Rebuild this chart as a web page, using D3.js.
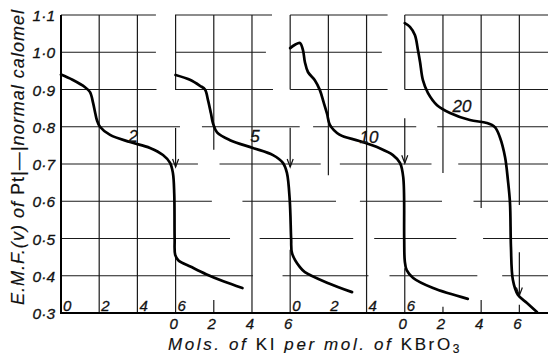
<!DOCTYPE html>
<meta charset="utf-8">
<style>
body {
    margin: 0px;
    background: #fff;
    overflow: hidden;
}
svg text {
    fill: #111;
    stroke: #111;
    stroke-width: 0.3px;
    font-family: "Liberation Sans", Arial, sans-serif;
}
.grid line {
    stroke: #1a1a1a;
    stroke-width: 1.2px;
}
.curve {
    fill: none;
    stroke: #000;
    stroke-width: 2.7px;
    stroke-linejoin: round;
    stroke-linecap: round;
}
</style>
<body>
<script src="https://d3js.org/d3.v7.min.js"></script>
<script>
var width = 550,
    height = 354;

// ratio labels of the four curves, each drawn on its own grid shifted 6 mols right
var ratios = ["2", "5", "10", "20"];
var shift = 6;

// mols KI per mol KBrO3 (local to each curve) vs e.m.f. (v)
var curve2 = [[0,0.94],[0.6,0.926],[1.26,0.906],[1.52,0.893],[1.68,0.864],[1.8,0.835],[1.88,0.818],
    [2.04,0.80],[2.57,0.778],[3.61,0.759],[4.66,0.743],[5.34,0.724],[5.71,0.703],[5.86,0.676],
    [5.93,0.62],[5.95,0.5],[5.98,0.456],[6.15,0.441],[6.8,0.424],[7.6,0.404],[8.5,0.385],[9.5,0.367]];
var curve5 = [[0,0.939],[0.75,0.926],[1.28,0.91],[1.54,0.9],[1.7,0.871],[1.85,0.836],[1.96,0.809],
    [2.17,0.785],[2.85,0.764],[4.05,0.743],[5.1,0.724],[5.62,0.703],[5.83,0.676],[5.98,0.6],
    [6.05,0.5],[6.1,0.46],[6.51,0.423],[6.77,0.41],[8.0,0.38],[9.24,0.356]];
var curve10 = [[0,1.011],[0.25,1.02],[0.51,1.025],[0.67,1.006],[0.77,0.974],[0.93,0.947],[1.29,0.925],
    [1.55,0.899],[1.75,0.866],[1.93,0.835],[2.08,0.805],[2.58,0.779],[3.62,0.762],[4.66,0.743],
    [5.38,0.724],[5.75,0.703],[5.92,0.665],[5.97,0.5],[6.0,0.44],[6.1,0.415],[6.44,0.394],
    [7.48,0.367],[9.3,0.338]];
var curve20 = [[0,1.078],[0.27,1.068],[0.53,1.046],[0.69,1.006],[0.8,0.974],[0.95,0.925],[1.21,0.891],
    [1.69,0.858],[2.37,0.837],[3.41,0.818],[4.3,0.81],[4.72,0.799],[4.98,0.772],[5.25,0.719],
    [5.4,0.657],[5.51,0.595],[5.56,0.477],[5.66,0.389],[5.92,0.349],[6.4,0.327],[6.92,0.303]];
var curves = [curve2, curve5, curve10, curve20];

// where each label sits (local mols, v at baseline)
var labelAt = [[3.78,0.759],[4.16,0.759],[4.13,0.756],[3.0,0.84]];

// end-point arrows (local mols, v from, v to)
var arrows = [[6,0.797,0.692],[6,0.797,0.692],[6,0.823,0.702],[6,0.463,0.347]];

var yTicks = [1.1, 1.0, 0.9, 0.8, 0.7, 0.6, 0.5, 0.4, 0.3];
var xTicks = [0, 2, 4, 6];

// broken horizontal rules, in overall mol units
var hRules = {
    "1.1": [[0,4.97],[5.97,11.05],[12,17.1],[18,25.5]],
    "1.0": [[0,4.97],[5.97,10.73],[12,16.8],[18,25.5]],
    "0.9": [[0,5.0],[5.97,11.1],[12,17.1],[18,25.5]],
    "0.8": [[0,6.23],[7.38,12.5],[13.2,18.6],[19.7,25.5]],
    "0.7": [[0,7.17],[8.3,13.6],[14.6,19.4],[20.8,25.5]],
    "0.6": [[0,7.9],[9.5,14.4],[15.65,19.95],[21.6,25.5]],
    "0.5": [[0,8.85],[10.4,15.3],[16.4,20.7],[22.1,25.5]],
    "0.4": [[0,10.05],[11.6,16.1],[17.2,21.8],[23.1,25.5]]
};
// vertical rules: overall mol position and v spans
var vRules = [
    [0,[[0.3,1.1]]], [2,[[0.3,1.1]]], [4,[[0.3,1.1]]],
    [6,[[0.9,1.1],[0.3,0.45]]],
    [8,[[0.738,1.1],[0.3,0.335]]], [10,[[0.3,1.1]]],
    [12,[[0.9,1.1],[0.3,0.47]]],
    [14,[[0.67,1.1]]], [16,[[0.3,1.1]]],
    [18,[[0.9,1.1],[0.3,0.42]]],
    [20,[[0.676,1.1],[0.3,0.317]]], [22,[[0.582,1.1],[0.3,0.335]]],
    [24,[[0.59,1.1],[0.3,0.322]]]
];

var x = d3.scaleLinear().domain([0, 25.5]).range([61, 548]);
var y = d3.scaleLinear().domain([0.3, 1.1]).range([313, 15]);

var svg = d3.select("body").append("svg")
    .attr("width", width)
    .attr("height", height);

var grid = svg.append("g").attr("class", "grid");

Object.keys(hRules).forEach(function(k) {
    grid.selectAll(null)
        .data(hRules[k])
        .enter().append("line")
        .attr("x1", function(d) { return x(d[0]); })
        .attr("x2", function(d) { return x(d[1]); })
        .attr("y1", y(+k))
        .attr("y2", y(+k));
});

vRules.forEach(function(r) {
    grid.selectAll(null)
        .data(r[1])
        .enter().append("line")
        .attr("x1", x(r[0]))
        .attr("x2", x(r[0]))
        .attr("y1", function(d) { return y(d[0]); })
        .attr("y2", function(d) { return y(d[1]); });
});

// heavier frame: left axis and baseline
svg.append("line")
    .attr("x1", x(0)).attr("x2", x(0))
    .attr("y1", y(0.3) + 1).attr("y2", y(1.1))
    .attr("stroke", "#000").attr("stroke-width", 2);
svg.append("line")
    .attr("x1", x(0)).attr("x2", x(25.5))
    .attr("y1", y(0.3)).attr("y2", y(0.3))
    .attr("stroke", "#000").attr("stroke-width", 2);

// arrows
arrows.forEach(function(a, i) {
    var ax = x(a[0] + i * shift), y0 = y(a[1]), y1 = y(a[2]);
    var g = svg.append("g").attr("stroke", "#111").attr("stroke-width", 1.2).attr("fill", "none");
    g.append("line").attr("x1", ax).attr("x2", ax).attr("y1", y0).attr("y2", y1);
    g.append("path").attr("d", "M" + (ax - 3) + "," + (y1 - 8) + "L" + ax + "," + y1 + "L" + (ax + 3) + "," + (y1 - 8));
});

var line = d3.line()
    .curve(d3.curveCatmullRom.alpha(0.5));

curves.forEach(function(c, i) {
    svg.append("path")
        .attr("class", "curve")
        .attr("d", line(c.map(function(d) { return [x(d[0] + i * shift), y(d[1])]; })));
    svg.append("text")
        .attr("x", x(labelAt[i][0] + i * shift))
        .attr("y", y(labelAt[i][1]))
        .attr("text-anchor", "middle")
        .attr("font-size", 17)
        .attr("font-style", "italic")
        .text(ratios[i]);
});

// y tick labels
svg.selectAll(".ylab")
    .data(yTicks)
    .enter().append("text")
    .attr("class", "ylab")
    .attr("x", 55)
    .attr("y", function(d) { return y(d) + 6; })
    .attr("text-anchor", "end")
    .attr("font-size", 15.5)
    .attr("font-style", "italic")
    .text(function(d) { return d.toFixed(1).replace(".", "\u00b7"); });

// x tick labels: curves 1 and 3 inside the plot, 2 and 4 below it
[0, 1, 2, 3].forEach(function(p) {
    var inside = p % 2 === 0;
    svg.selectAll(null)
        .data(xTicks)
        .enter().append("text")
        .attr("x", function(d) { return x(d + p * shift) + (inside ? 2 : -2); })
        .attr("y", inside ? 311 : 329)
        .attr("text-anchor", inside ? "start" : "middle")
        .attr("font-size", 15)
        .attr("font-style", "italic")
        .text(function(d) { return d; });
});

// stretch a title to a given length with letter spacing
function fit(t, len) {
    var w = t.node().getComputedTextLength();
    var n = t.text().length;
    t.attr("letter-spacing", ((len - w) / n).toFixed(2));
}

// axis titles
var xt = svg.append("text")
    .attr("x", 168)
    .attr("y", 350)
    .attr("font-size", 17)
    .style("stroke-width", "0.15px");
xt.append("tspan").attr("font-style", "italic").text("Mols. of ");
xt.append("tspan").text("KI");
xt.append("tspan").attr("font-style", "italic").text(" per mol. of ");
xt.append("tspan").text("KBrO");
xt.append("tspan").attr("dy", 2.5).attr("font-size", 12).text("3");
fit(xt, 294);

var yt = svg.append("text")
    .attr("transform", "translate(24,305) rotate(-90)")
    .attr("font-size", 18)
    .style("stroke-width", "0.15px");
yt.append("tspan").attr("font-style", "italic").text("E.M.F.(v) of ");
yt.append("tspan").text("Pt|\u2014|");
yt.append("tspan").attr("font-style", "italic").text("normal calomel");
fit(yt, 296);
</script>
</body>
</html>
